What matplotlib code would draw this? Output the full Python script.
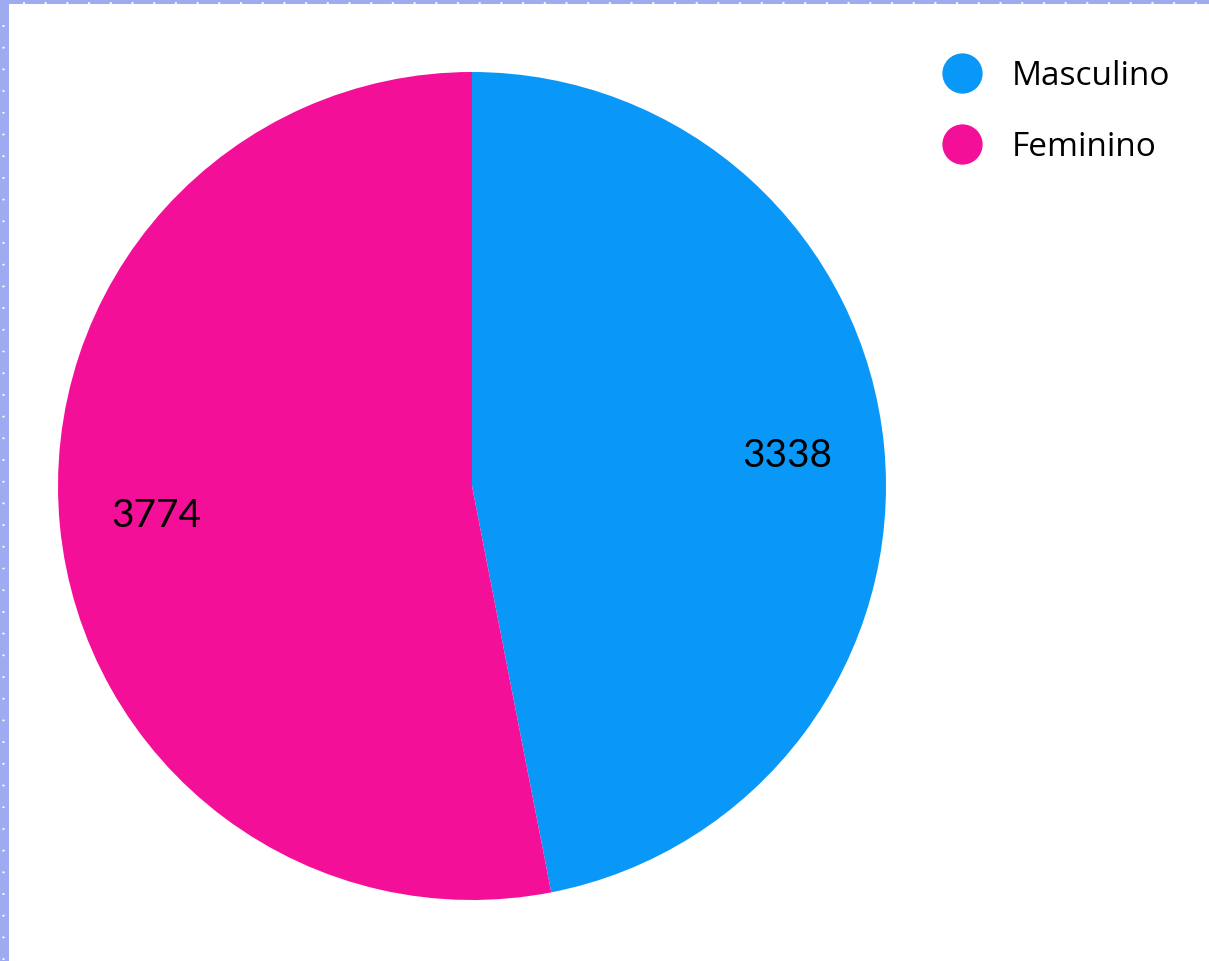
import matplotlib
matplotlib.use('Agg')
from matplotlib import pyplot as plt
from matplotlib.lines import Line2D
from matplotlib.patches import Rectangle

plt.rcParams['font.family'] = ['Open Sans', 'DejaVu Sans']

labels = ["Masculino", "Feminino"]
values = [3338, 3774]
colors = ['#0A98F8', '#F40F98']

W, H = 1209, 961
px = 1 / 100.

fig = plt.figure(figsize=(W * px, H * px), dpi=100)
fig.patch.set_facecolor('white')

# pie: centre (472, 486) px, radius ~414 px
cx, cy, r = 472, 486, 414
ax = fig.add_axes([(cx - r) / W, (H - cy - r) / H, 2 * r / W, 2 * r / H])
wedges, texts = ax.pie(values, colors=colors, startangle=90, counterclock=False,
                       labels=[str(v) for v in values], labeldistance=0.765,
                       wedgeprops=dict(linewidth=0))
for t in texts:
    t.set_fontsize(28)
    t.set_color('black')
    t.set_family(['Lato', 'DejaVu Sans'])
    t.set_ha('center')
    t.set_va('center')
ax.set_xlim(-1, 1)
ax.set_ylim(-1, 1)
ax.axis('off')

# legend with round markers
fs = 24
handles = [Line2D([], [], marker='o', linestyle='none', markersize=29,
                  markerfacecolor=c, markeredgewidth=0) for c in colors]
fig.legend(handles, labels, loc='upper left', bbox_to_anchor=(942 / W, 1 - 60 / H),
           frameon=False, fontsize=fs, handlelength=1.2, handletextpad=0.88,
           labelspacing=1.14, borderaxespad=0, borderpad=0)

# dotted frame on the left and top edges
border = '#9EABF0'
fig.patches.append(Rectangle((0, 0), 9 / W, 1, transform=fig.transFigure,
                             facecolor=border, edgecolor='none', zorder=5))
fig.patches.append(Rectangle((0, 1 - 4 / H), 1, 4 / H, transform=fig.transFigure,
                             facecolor=border, edgecolor='none', zorder=5))
step = 21.7
xs = [24 + i * step for i in range(int((W - 24) / step) + 1)]
ys = [26 + i * step for i in range(int((H - 26) / step) + 1)]
for x in xs:
    fig.patches.append(plt.Circle((x / W, 1 - 3 / H), 1.2 / W, transform=fig.transFigure,
                                  facecolor='white', edgecolor='none', zorder=6))
for y in ys:
    fig.patches.append(plt.Circle((3.5 / W, 1 - y / H), 1.2 / W, transform=fig.transFigure,
                                  facecolor='white', edgecolor='none', zorder=6))

fig.savefig('out.png', dpi=100)
